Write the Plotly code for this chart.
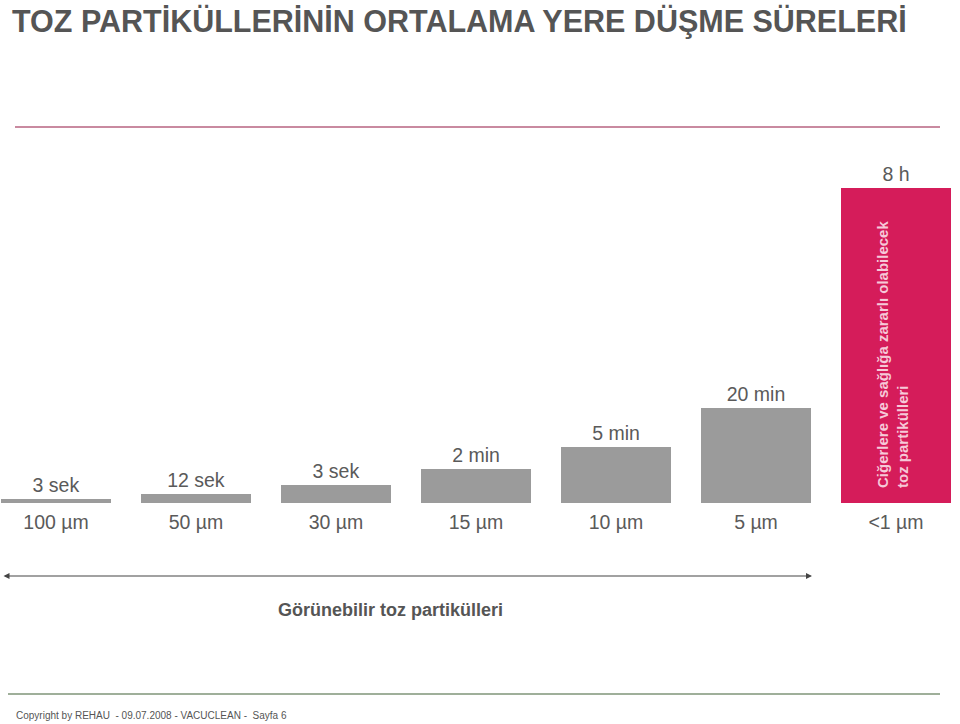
import plotly.graph_objects as go

sizes = ["100 µm", "50 µm", "30 µm", "15 µm", "10 µm", "5 µm", "<1 µm"]
times = ["3 sek", "12 sek", "3 sek", "2 min", "5 min", "20 min", "8 h"]
bar_heights = [4, 9, 18, 34, 56, 95, 315]
colors = ["#9b9b9b"] * 6 + ["#d51c5a"]

FONT = "Liberation Sans, Arial, sans-serif"
TXT = "#5a5a5a"

x = list(range(len(sizes)))

fig = go.Figure()
fig.add_trace(go.Bar(
    x=x, y=bar_heights, width=0.78,
    marker=dict(color=colors, line=dict(width=0)),
    text=times, textposition="outside", cliponaxis=False,
    constraintext="none",
    textfont=dict(family=FONT, size=19.5, color=TXT),
    hoverinfo="skip",
))

W, H = 960, 724
T, B, L, R = 163, 221, 0, 1


def py(p):
    return (H - B - p) / (H - T - B)


def px(p):
    return (p - L) / (W - L - R)


fig.update_layout(
    width=W, height=H,
    margin=dict(l=L, r=R, t=T, b=B),
    paper_bgcolor="white", plot_bgcolor="white",
    showlegend=False,
    bargap=0,
    title=dict(
        text="<b>TOZ PARTİKÜLLERİNİN ORTALAMA YERE DÜŞME SÜRELERİ</b>",
        x=12 / W, xanchor="left", y=1 - 21 / H, yanchor="middle",
        font=dict(family=FONT, size=30.5, color="#555555"),
    ),
    xaxis=dict(
        range=[-0.4, 6.45], tickvals=x, ticktext=sizes,
        showgrid=False, zeroline=False, showline=False, ticks="",
        tickfont=dict(family=FONT, size=19.5, color=TXT),
        ticklabelstandoff=5, fixedrange=True,
    ),
    yaxis=dict(
        range=[0, 340], visible=False, showgrid=False, zeroline=False,
        fixedrange=True,
    ),
    shapes=[
        dict(type="line", xref="paper", yref="paper",
             x0=px(15), x1=px(940), y0=py(127), y1=py(127),
             line=dict(color="#c98aa0", width=2)),
        dict(type="line", xref="paper", yref="paper",
             x0=px(8), x1=px(940), y0=py(694), y1=py(694),
             line=dict(color="#7f9478", width=1.5)),
    ],
    annotations=[
        dict(xref="x", yref="y", x=6, y=148, xshift=-4,
             xanchor="center", yanchor="middle",
             text="<b>Ciğerlere ve sağlığa zararlı olabilecek<br>toz partikülleri</b>",
             textangle=-90, showarrow=False, align="left",
             font=dict(family=FONT, size=15, color="#f6c9d8")),
        dict(xref="paper", yref="paper", x=px(812), y=py(576),
             ax=-(812 - 2), ay=0, text="", showarrow=True,
             arrowhead=2, startarrowhead=2, arrowside="end+start",
             arrowsize=1, startarrowsize=1, arrowwidth=1.2, arrowcolor="#444444"),
        dict(xref="paper", yref="paper", x=px(390), y=py(610),
             xanchor="center", yanchor="middle",
             text="<b>Görünebilir toz partikülleri</b>", showarrow=False,
             font=dict(family=FONT, size=18, color="#555555")),
        dict(xref="paper", yref="paper", x=px(14), y=py(715),
             xanchor="left", yanchor="middle",
             text="Copyright by REHAU  - 09.07.2008 - VACUCLEAN -  Sayfa 6",
             showarrow=False,
             font=dict(family=FONT, size=10, color="#555555")),
    ],
)

fig.write_html("out.html")
